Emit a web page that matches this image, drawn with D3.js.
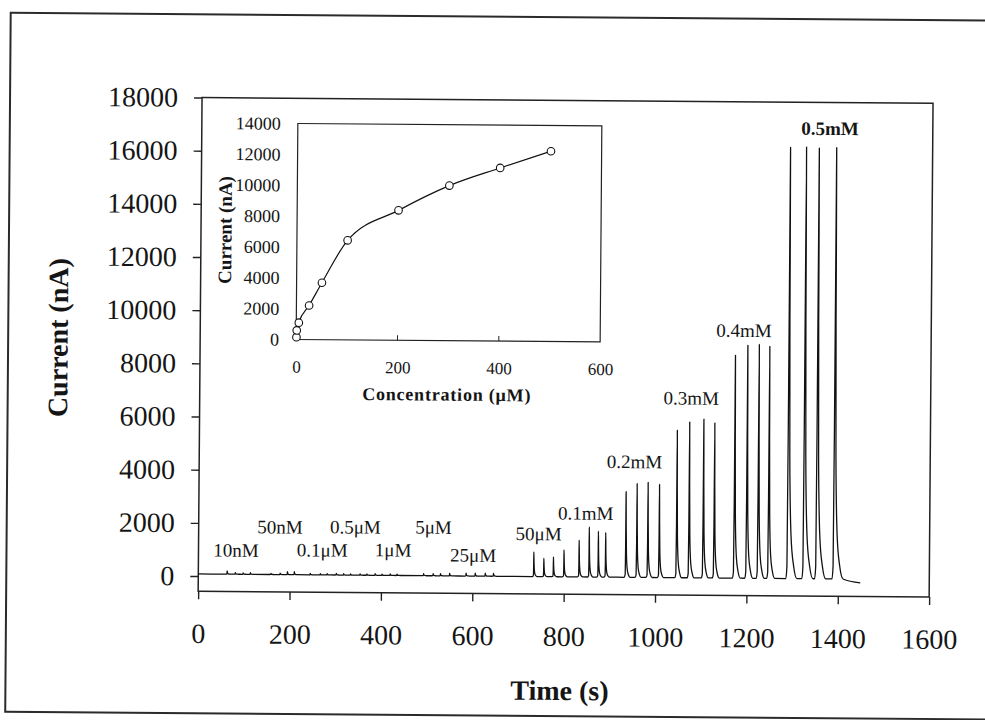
<!DOCTYPE html>
<html>
<head>
<meta charset="utf-8">
<script src="https://cdn.jsdelivr.net/npm/d3@7"></script>
<style>
body { margin: 0; background: #fff; }
svg { display: block; }
</style>
</head>
<body>
<svg id="chart" width="985" height="720"></svg>
<script>
// amperometric response: 4 injections per concentration step
const levels = ["10nM", "50nM", "0.1\u03bcM", "0.5\u03bcM", "1\u03bcM", "5\u03bcM", "25\u03bcM",
                "50\u03bcM", "0.1mM", "0.2mM", "0.3mM", "0.4mM", "0.5mM"];
const peakTimes = [
    [63, 81, 98, 114],
    [159, 179, 195, 210],
    [245, 267, 282, 302],
    [318, 333, 354, 369],
    [387, 402, 420, 435],
    [493, 514, 530, 550],
    [586, 606, 628, 646],
    [734, 756, 777, 800],
    [833, 855, 875, 891],
    [935, 959, 983, 1008],
    [1046, 1073, 1104, 1128],
    [1172, 1199, 1224, 1247],
    [1289, 1324, 1352, 1390]
];
const peakHeights = [
    [200, 140, 135, 140],
    [120, 130, 190, 190],
    [130, 130, 130, 140],
    [130, 130, 130, 130],
    [140, 130, 140, 130],
    [160, 160, 160, 170],
    [190, 190, 190, 190],
    [1010, 770, 830, 1090],
    [1460, 1960, 1810, 1760],
    [3300, 3610, 3660, 3580],
    [5630, 5940, 6050, 5910],
    [8460, 8840, 8880, 8810],
    [16300, 16320, 16280, 16300]
];
// where each concentration label sits (time s, current nA)
const labelTimes = [82, 178, 271, 343, 426, 514, 601, 744, 847, 953, 1076, 1190, 1375];
const labelCurrents = [985, 1870, 1015, 1890, 1040, 1910, 865, 1690, 2480, 4430, 6840, 9400, 17020];
const baseline = 80;
const traceEnd = [1449, -60];

const xTicks = [0, 200, 400, 600, 800, 1000, 1200, 1400, 1600];
const yTicks = [0, 2000, 4000, 6000, 8000, 10000, 12000, 14000, 16000, 18000];

// inset calibration curve
const concUM = [0.5, 1, 5, 25, 50, 100, 200, 300, 400, 500];
const calCurrent = [150, 590, 1090, 2210, 3690, 6450, 8420, 10050, 11220, 12330];
const insetXTicks = [0, 200, 400, 600];
const insetYTicks = [0, 2000, 4000, 6000, 8000, 10000, 12000, 14000];

const serif = "'Liberation Serif', 'Times New Roman', serif";
const ink = "#151515";

const svg = d3.select("#chart");
// the scanned figure sits slightly askew
const g = svg.append("g").attr("transform", "rotate(0.45,490,360)");

g.append("rect")
    .attr("x", 8).attr("y", 16.5)
    .attr("width", 1000).attr("height", 699)
    .attr("fill", "none").attr("stroke", "#2b2b2b").attr("stroke-width", 2);

const x = d3.scaleLinear().domain([0, 1600]).range([200, 931]);
const y = d3.scaleLinear().domain([-570, 18000]).range([593.5, 99.8]);

// frame of the main plot
g.append("rect")
    .attr("x", x(0)).attr("y", y(18000))
    .attr("width", x(1600) - x(0)).attr("height", y(-570) - y(18000))
    .attr("fill", "none").attr("stroke", "#222").attr("stroke-width", 1.5);

let yAxis = g.append("g").attr("transform", `translate(${x(0)},0)`)
    .call(d3.axisLeft(y).tickValues(yTicks).tickSize(8).tickSizeOuter(0)
        .tickPadding(16).tickFormat(d3.format("d")));
yAxis.select(".domain").remove();
yAxis.selectAll("line").attr("stroke", "#222").attr("stroke-width", 1.4);
yAxis.selectAll("text").attr("font-family", serif).attr("font-size", 28).attr("fill", ink);

let xAxis = g.append("g").attr("transform", `translate(0,${y(-570)})`)
    .call(d3.axisBottom(x).tickValues(xTicks).tickSize(8).tickSizeOuter(0)
        .tickPadding(24).tickFormat(d3.format("d")));
xAxis.select(".domain").remove();
xAxis.selectAll("line").attr("stroke", "#222").attr("stroke-width", 1.4);
xAxis.selectAll("text").attr("font-family", serif).attr("font-size", 28).attr("fill", ink);

g.append("text")
    .attr("transform", "translate(58,341) rotate(-90)")
    .attr("text-anchor", "middle").attr("dominant-baseline", "central")
    .attr("font-family", serif).attr("font-size", 28).attr("font-weight", "bold")
    .attr("fill", ink).text("Current (nA)");

g.append("text")
    .attr("x", 562).attr("y", 690)
    .attr("text-anchor", "middle").attr("dominant-baseline", "central")
    .attr("font-family", serif).attr("font-size", 28).attr("font-weight", "bold")
    .attr("fill", ink).text("Time (s)");

// trace: each injection drawn with the same spike shape, tail widens with height
const peakShape = [[-3, 0], [-0.8, 0.03], [-0.2, 0.35], [0, 1], [0.5, 0.6],
                   [1.2, 0.28], [2.5, 0.1], [4.5, 0.03], [7, 0]];
let pts = [[0, baseline]];
peakTimes.forEach((times, li) => {
    times.forEach((t0, i) => {
        let h = peakHeights[li][i];
        let s = 1 + h / 8000;
        peakShape.forEach(([dt, f]) => {
            pts.push([t0 + (dt > 0 ? dt * s : dt), baseline + (h - baseline) * f]);
        });
    });
});
pts.push(traceEnd);
pts.sort((a, b) => a[0] - b[0]);

g.append("path")
    .datum(pts)
    .attr("fill", "none").attr("stroke", "#111").attr("stroke-width", 1.3)
    .attr("stroke-linejoin", "round")
    .attr("d", d3.line().x(d => x(d[0])).y(d => y(d[1])).curve(d3.curveMonotoneX));

g.selectAll(".conc")
    .data(levels)
    .enter().append("text")
    .attr("class", "conc")
    .attr("x", (d, i) => x(labelTimes[i]))
    .attr("y", (d, i) => y(labelCurrents[i]))
    .attr("text-anchor", "middle").attr("dominant-baseline", "central")
    .attr("font-family", serif).attr("font-size", 19)
    .attr("font-weight", (d, i) => i === levels.length - 1 ? "bold" : "normal")
    .attr("fill", ink)
    .text(d => d);

// inset
const ix = d3.scaleLinear().domain([0, 600]).range([296, 600]);
const iy = d3.scaleLinear().domain([0, 14000]).range([341, 125]);

g.append("rect")
    .attr("x", ix(0)).attr("y", iy(14000))
    .attr("width", ix(600) - ix(0)).attr("height", iy(0) - iy(14000))
    .attr("fill", "none").attr("stroke", "#222").attr("stroke-width", 1.2);

g.selectAll(".itick")
    .data([200, 400])
    .enter().append("line")
    .attr("x1", d => ix(d)).attr("x2", d => ix(d))
    .attr("y1", iy(0)).attr("y2", iy(0) - 5)
    .attr("stroke", "#222").attr("stroke-width", 1);

let iyAxis = g.append("g").attr("transform", `translate(${ix(0)},0)`)
    .call(d3.axisLeft(iy).tickValues(insetYTicks).tickSize(0).tickPadding(17)
        .tickFormat(d3.format("d")));
iyAxis.select(".domain").remove();
iyAxis.selectAll("text").attr("font-family", serif).attr("font-size", 18).attr("fill", ink);

let ixAxis = g.append("g").attr("transform", `translate(0,${iy(0)})`)
    .call(d3.axisBottom(ix).tickValues(insetXTicks).tickSize(0).tickPadding(21)
        .tickFormat(d3.format("d")));
ixAxis.select(".domain").remove();
ixAxis.selectAll("text").attr("font-family", serif).attr("font-size", 17).attr("fill", ink);

g.append("text")
    .attr("transform", "translate(224,232) rotate(-90)")
    .attr("text-anchor", "middle").attr("dominant-baseline", "central")
    .attr("font-family", serif).attr("font-size", 19).attr("font-weight", "bold")
    .attr("fill", ink).text("Current (nA)");

g.append("text")
    .attr("x", 447).attr("y", 395)
    .attr("text-anchor", "middle").attr("dominant-baseline", "central")
    .attr("font-family", serif).attr("font-size", 18).attr("font-weight", "bold")
    .attr("letter-spacing", 0.8)
    .attr("fill", ink).text("Concentration (\u03bcM)");

const cal = concUM.map((c, i) => [c, calCurrent[i]]);
g.append("path")
    .datum(cal)
    .attr("fill", "none").attr("stroke", "#111").attr("stroke-width", 1.2)
    .attr("d", d3.line().x(d => ix(d[0])).y(d => iy(d[1])).curve(d3.curveMonotoneX));

g.selectAll(".pt")
    .data(cal)
    .enter().append("circle")
    .attr("class", "pt")
    .attr("cx", d => ix(d[0])).attr("cy", d => iy(d[1]))
    .attr("r", 3.8)
    .attr("fill", "#fff").attr("stroke", "#111").attr("stroke-width", 1.1);
</script>
</body>
</html>
